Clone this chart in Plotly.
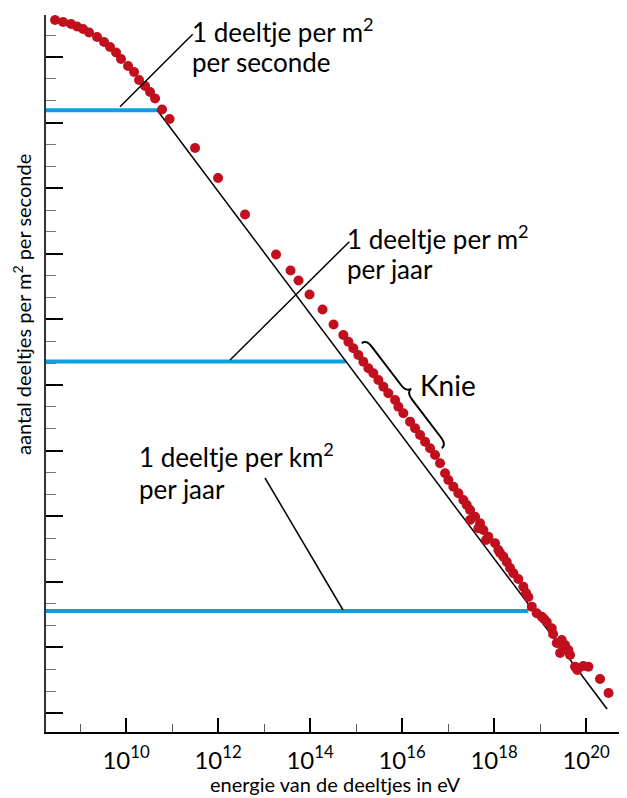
import numpy as np
import plotly.graph_objects as go

# ---- data (log10 values) ----
energy_log10 = [8.457, 8.631, 8.804, 8.935, 9.065, 9.196, 9.370, 9.522, 9.652, 9.783,
                9.891, 10.044, 10.174, 10.283, 10.413, 10.522, 10.631, 10.783, 10.946,
                11.500, 12.000, 12.587, 13.261, 13.576, 13.750, 13.989, 14.272, 14.511,
                14.724, 14.833, 14.941, 15.050, 15.159, 15.268, 15.376, 15.485, 15.594,
                15.702, 15.848, 15.920, 16.028, 16.174, 16.283, 16.391, 16.500, 16.609,
                16.718, 16.826, 16.935, 17.007, 17.115, 17.224, 17.333, 17.407, 17.478,
                17.587, 17.696, 17.768, 17.876, 18.022, 18.094, 18.202, 18.276, 18.420,
                18.528, 18.637, 18.746, 18.820, 18.928, 19.037, 19.146, 19.254, 19.363,
                19.472, 19.544, 19.615, 19.652, 19.761, 19.811, 19.941, 20.050, 20.304,
                20.489,
                17.478, 17.659, 17.826, 18.131, 18.348, 18.696, 19.087, 19.283, 19.435, 19.500]
flux_log10 = [10.564, 10.534, 10.503, 10.465, 10.427, 10.374, 10.305, 10.229, 10.153, 10.069,
              9.970, 9.863, 9.771, 9.649, 9.558, 9.467, 9.367, 9.200, 9.055,
              8.613, 8.156, 7.599, 6.989, 6.746, 6.593, 6.380, 6.151, 5.922,
              5.762, 5.660, 5.560, 5.457, 5.355, 5.255, 5.178, 5.076, 4.974,
              4.874, 4.771, 4.669, 4.569, 4.441, 4.340, 4.238, 4.136, 4.035,
              3.933, 3.806, 3.654, 3.552, 3.450, 3.349, 3.247, 3.171, 3.095,
              2.992, 2.892, 2.790, 2.688, 2.587, 2.485, 2.383, 2.302, 2.130,
              2.043, 1.925, 1.768, 1.621, 1.520, 1.468, 1.387, 1.291, 1.067,
              1.113, 1.037, 0.960, 0.884, 0.706, 0.656, 0.717, 0.706, 0.518,
              0.305,
              2.942, 2.816, 2.637, 2.439, 2.210, 1.829, 1.433, 1.204, 0.915, 1.006]

# straight power-law reference line (end points)
line_energy_log10 = [10.674, 20.457]
line_flux_log10 = [9.192, 0.061]

# horizontal reference levels: flux level and energy where they meet the spectrum
level_flux_log10 = [9.187, 5.358, 1.555]
level_energy_log10 = [10.702, 14.776, 18.746]

x_tick_exponents = [10, 12, 14, 16, 18, 20]
x_minor_exponents = [9, 11, 13, 15, 17, 19]

X_RANGE = [8.26, 20.89]
Y_RANGE = [-0.29, 10.64]

RED = "#c10f1d"
BLUE = "#0aa0e2"
FONT = "Lato"

fig = go.Figure()

# blue levels
for fl, en in zip(level_flux_log10, level_energy_log10):
    fig.add_trace(go.Scatter(x=[10 ** X_RANGE[0], 10 ** en], y=[10 ** fl, 10 ** fl],
                             mode="lines", line=dict(color=BLUE, width=4),
                             hoverinfo="skip", showlegend=False))

# power-law line
fig.add_trace(go.Scatter(x=[10 ** v for v in line_energy_log10],
                         y=[10 ** v for v in line_flux_log10],
                         mode="lines", line=dict(color="black", width=1.5),
                         hoverinfo="skip", showlegend=False))

# measurements
fig.add_trace(go.Scatter(x=[10 ** v for v in energy_log10],
                         y=[10 ** v for v in flux_log10],
                         mode="markers", marker=dict(color=RED, size=10, line=dict(width=0)),
                         showlegend=False))

# ---- layout geometry (page pixels; the page body adds an 8px offset) ----
W, H = 627, 798
OFF = 8
PLOT_L, PLOT_R, PLOT_T, PLOT_B = 46, 627, 15, 732     # plot area in page pixels
L = PLOT_L - OFF
T = PLOT_T - OFF
R = W - (PLOT_R - OFF)
B = H - (PLOT_B - OFF)
PW, PH = PLOT_R - PLOT_L, PLOT_B - PLOT_T


def px2paper(px, py):
    return (px - PLOT_L) / PW, (PLOT_B - py) / PH


shapes = []
# leader lines
for (a, b) in [((120, 106.7), (192.7, 34.3)),
               ((230, 360), (349.3, 241.7)),
               ((265, 478), (343, 610))]:
    x0, y0 = px2paper(*a)
    x1, y1 = px2paper(*b)
    shapes.append(dict(type="line", xref="paper", yref="paper", x0=x0, y0=y0, x1=x1, y1=y1,
                       line=dict(color="black", width=1.5)))

# curly brace for the knee
A = np.array([361.7, 343.3])
Bp = np.array([441.7, 448.3])
u = (Bp - A) / np.linalg.norm(Bp - A)
n = np.array([u[1], -u[0]])
Lb = np.linalg.norm(Bp - A)
h, w = 6.0, 9.0


def P(s, t):
    p = A + s * u + t * n
    x, y = px2paper(p[0], p[1])
    return f"{x:.5f},{y:.5f}"


path = (f"M {P(0, 0)} Q {P(0, h)} {P(w, h)} L {P(Lb / 2 - w, h)} "
        f"Q {P(Lb / 2, h)} {P(Lb / 2, 2 * h)} Q {P(Lb / 2, h)} {P(Lb / 2 + w, h)} "
        f"L {P(Lb - w, h)} Q {P(Lb, h)} {P(Lb, 0)}")
shapes.append(dict(type="path", xref="paper", yref="paper", path=path,
                   line=dict(color="black", width=2)))

annotations = []


def text(px, py, s, size=26):
    x, y = px2paper(px, py)
    annotations.append(dict(xref="paper", yref="paper", x=x, y=y, text=s, showarrow=False,
                            xanchor="left", yanchor="middle",
                            font=dict(family=FONT, size=size, color="black")))


text(190, 30, "1 deeltje per m<sup>2</sup>")
text(190, 62, "per seconde")
text(345, 237, "1 deeltje per m<sup>2</sup>")
text(345, 269, "per jaar")
text(137, 455, "1 deeltje per km<sup>2</sup>")
text(137, 489, "per jaar")
text(418, 385, "Knie", size=28)

# axis titles
xa, ya = px2paper(22, 305)
annotations.append(dict(xref="paper", yref="paper", x=xa, y=ya, textangle=-90,
                        text="aantal deeltjes per m<sup>2</sup> per seconde", showarrow=False,
                        xanchor="center", yanchor="middle",
                        font=dict(family=FONT, size=20, color="black")))
xb, yb = px2paper(335, 784)
annotations.append(dict(xref="paper", yref="paper", x=xb, y=yb,
                        text="energie van de deeltjes in eV", showarrow=False,
                        xanchor="center", yanchor="middle",
                        font=dict(family=FONT, size=20, color="black")))

y_major = [10.0 ** k for k in range(0, 11)]
y_minor = [10.0 ** (k + f) for k in range(-1, 11) for f in (1 / 3, 2 / 3)
           if Y_RANGE[0] <= k + f <= Y_RANGE[1]]

fig.update_layout(
    width=W, height=H,
    margin=dict(l=L, r=R, t=T, b=B),
    paper_bgcolor="white", plot_bgcolor="white",
    font=dict(family=FONT, color="black"),
    shapes=shapes, annotations=annotations,
    xaxis=dict(type="log", range=X_RANGE, showgrid=False, zeroline=False,
               showline=True, linecolor="black", linewidth=1.5,
               ticks="inside", ticklen=14, tickwidth=1.5, tickcolor="black",
               tickvals=[10.0 ** e for e in x_tick_exponents],
               ticktext=[f"10<sup>{e}</sup>" for e in x_tick_exponents],
               tickfont=dict(family=FONT, size=24, color="black"),
               ticklabelstandoff=6,
               minor=dict(tickvals=[10.0 ** e for e in x_minor_exponents],
                          ticks="inside", ticklen=8, tickwidth=1, tickcolor="#555",
                          showgrid=False)),
    yaxis=dict(type="log", range=Y_RANGE, showgrid=False, zeroline=False,
               showline=True, linecolor="#333", linewidth=1.5,
               ticks="inside", ticklen=17, tickwidth=1.5, tickcolor="black",
               tickvals=y_major, showticklabels=False,
               minor=dict(tickvals=y_minor, ticks="inside", ticklen=10, tickwidth=1.2,
                          tickcolor="#777", showgrid=False)),
)

fig.write_html("out.html")
